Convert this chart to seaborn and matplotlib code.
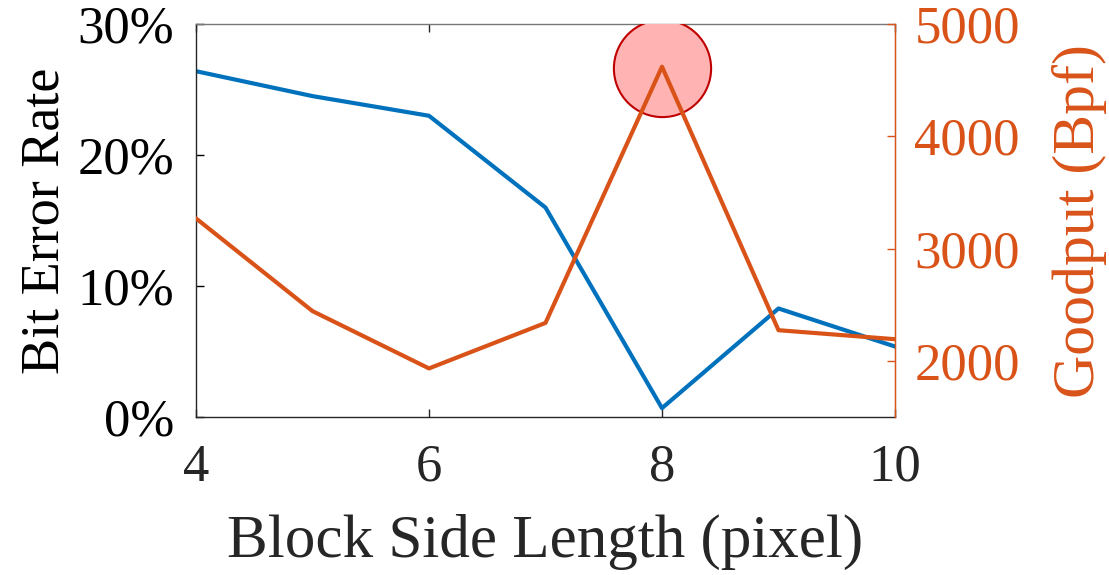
import numpy as np
import pandas as pd
import matplotlib
matplotlib.use("Agg")
import matplotlib.pyplot as plt
import seaborn as sns
from matplotlib.ticker import PercentFormatter

# data
block_side = [4, 5, 6, 7, 8, 9, 10]
bit_error_rate = [26.4, 24.5, 23.0, 16.0, 0.7, 8.3, 5.4]  # percent
goodput = [3270, 2445, 1935, 2340, 4620, 2275, 2195]  # Bpf
highlight_x = [8]
highlight_y = [4605]

df = pd.DataFrame({"Block": block_side, "BER": bit_error_rate, "Goodput": goodput})

sns.set_style("ticks")
plt.rcParams["font.family"] = ["Liberation Serif", "DejaVu Serif"]

blue = "#0072BD"
orange = "#D95319"
frame = "#262626"

fig = plt.figure(figsize=(11.09, 5.75), dpi=100)
ax = fig.add_axes([196 / 1109, 1 - 417.3 / 575, (895 - 196) / 1109, (417.3 - 24) / 575])
ax2 = ax.twinx()

sns.lineplot(data=df, x="Block", y="BER", ax=ax, color=blue, linewidth=3.0)
# highlight circle sits under the goodput line
ax2.scatter(highlight_x, highlight_y, s=4900, facecolor="#FFB3B3", edgecolor="#C00000",
            linewidth=1.5, zorder=1)
sns.lineplot(data=df, x="Block", y="Goodput", ax=ax2, color=orange, linewidth=3.0, zorder=3)

ax.set_xlim(4, 10)
ax.set_ylim(0, 30)
ax2.set_ylim(1500, 5000)
ax.set_xticks([4, 6, 8, 10])
ax.set_yticks([0, 10, 20, 30])
ax2.set_yticks([2000, 3000, 4000, 5000])
ax.yaxis.set_major_formatter(PercentFormatter(decimals=0))

fs = 38
ax.set_xlabel("Block Side Length (pixel)", fontsize=44, color=frame)
ax.set_ylabel("Bit Error Rate", fontsize=39, color="black")
ax2.set_ylabel("Goodput (Bpf)", fontsize=43, color=orange)
ax.xaxis.set_label_coords(0.5, -0.245)
ax.yaxis.set_label_coords(-0.18, 0.5)
ax2.yaxis.set_label_coords(1.224, 0.5)

ax.tick_params(axis="x", direction="in", top=True, labelsize=fs, colors=frame,
               length=6, width=1, pad=19)
ax.tick_params(axis="y", direction="in", labelsize=fs, colors="black", length=6, width=1, pad=16)
ax2.tick_params(axis="y", direction="in", labelsize=fs, colors=orange, length=6, width=1, pad=14)

for name in ["left", "bottom", "top"]:
    ax.spines[name].set_color(frame)
    ax.spines[name].set_linewidth(1)
ax.spines["top"].set_color("#777777")
ax2.spines["right"].set_color(orange)
ax2.spines["right"].set_linewidth(1)
for name in ["left", "bottom", "top"]:
    ax2.spines[name].set_visible(False)

fig.savefig("out.png", dpi=100)
